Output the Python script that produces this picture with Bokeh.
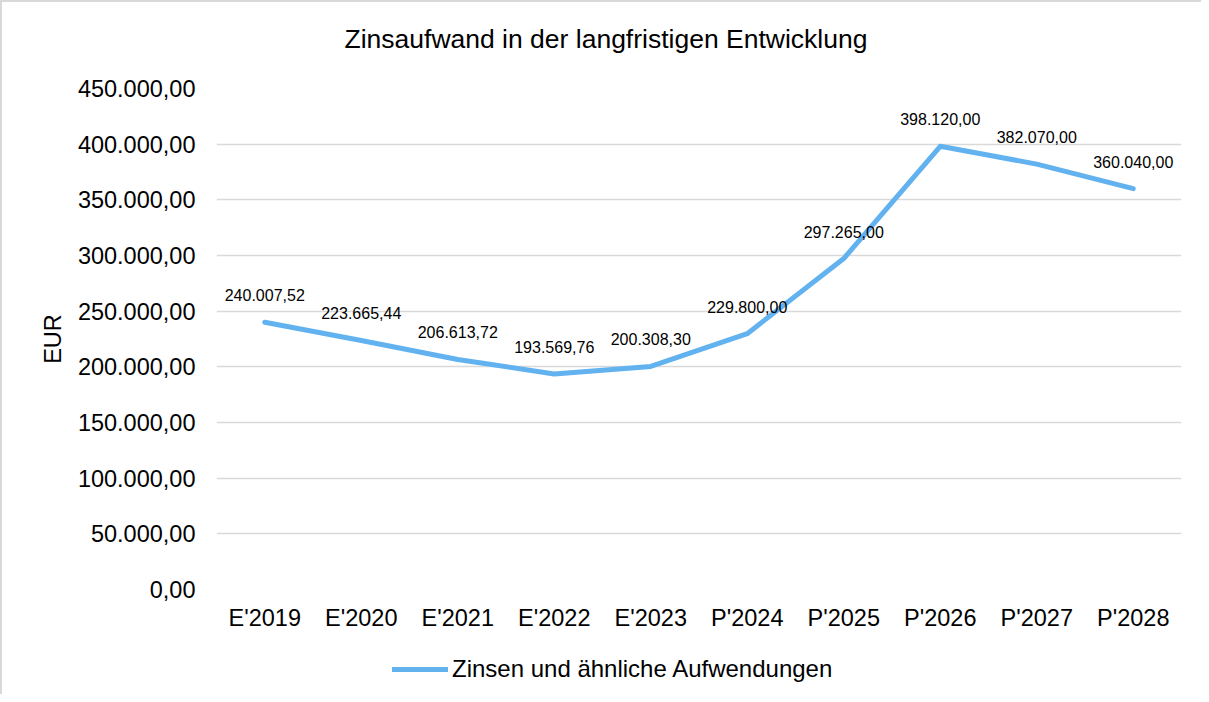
from bokeh.plotting import figure
from bokeh.layouts import column
from bokeh.models import ColumnDataSource, CustomJSTickFormatter, Legend, LegendItem, Range1d, FixedTicker
from bokeh.core.properties import value
from bokeh.embed import file_html
from bokeh.resources import INLINE

categories = ["E'2019", "E'2020", "E'2021", "E'2022", "E'2023",
              "P'2024", "P'2025", "P'2026", "P'2027", "P'2028"]
zinsen = [240007.52, 223665.44, 206613.72, 193569.76, 200308.30,
          229800.00, 297265.00, 398120.00, 382070.00, 360040.00]
y_ticks = [0, 50000, 100000, 150000, 200000, 250000, 300000, 350000, 400000, 450000]
series_name = "Zinsen und ähnliche Aufwendungen"
title_text = "Zinsaufwand in der langfristigen Entwicklung"

FONT = "Liberation Sans"
LINE_COLOR = "#62B2F0"


def de_fmt(v):
    s = f"{v:,.2f}"
    return s.replace(",", "X").replace(".", ",").replace("X", ".")


src = ColumnDataSource(dict(x=categories, y=zinsen, lbl=[de_fmt(v) for v in zinsen]))

# title strip
tp = figure(width=1199, height=72, output_backend="svg", toolbar_location=None,
            x_axis_type=None, y_axis_type=None, min_border=0)
tp.outline_line_color = None
tp.xgrid.grid_line_color = None
tp.ygrid.grid_line_color = None
tp.title.text = title_text
tp.title.text_font = FONT
tp.title.text_font_size = "26.5px"
tp.title.text_font_style = "normal"
tp.title.text_color = "#000000"
tp.title.align = "left"
tp.title.offset = 128
tp.title.standoff = 38

# main chart
p = figure(x_range=categories, width=1199, height=568, output_backend="svg",
           toolbar_location=None, min_border_left=214, min_border_right=20,
           min_border_bottom=53, min_border_top=14)
p.y_range = Range1d(0, 450000)
p.outline_line_color = None
p.xgrid.grid_line_color = None
p.ygrid.grid_line_color = "#d9d9d9"
p.ygrid.grid_line_width = 1.5

p.yaxis.ticker = FixedTicker(ticks=y_ticks)
p.yaxis.formatter = CustomJSTickFormatter(code="""
const s = tick.toFixed(2).split('.');
const i = s[0].replace(/\\B(?=(\\d{3})+(?!\\d))/g, '.');
return i + ',' + s[1];
""")
for ax in (p.xaxis, p.yaxis):
    ax.axis_line_color = None
    ax.major_tick_line_color = None
    ax.minor_tick_line_color = None
    ax.major_label_text_font = FONT
    ax.major_label_text_font_size = "23.5px"
    ax.major_label_text_color = "#000000"
p.yaxis.major_label_standoff = 15
p.xaxis.major_label_standoff = 9
p.yaxis.axis_label = "EUR"
p.yaxis.axis_label_text_font = FONT
p.yaxis.axis_label_text_font_size = "23.5px"
p.yaxis.axis_label_text_font_style = "normal"
p.yaxis.axis_label_text_color = "#000000"
p.yaxis.axis_label_standoff = 9

p.line("x", "y", source=src, line_color=LINE_COLOR, line_width=5, line_cap="round", line_join="round")
p.text("x", "y", text="lbl", source=src, text_font=value(FONT), text_font_size="16px",
       text_align="center", text_baseline="middle", y_offset=-27, text_color="#000000")

# legend strip below the chart (line kept outside the visible range; only the legend shows)
lp = figure(x_range=categories, width=1199, height=52, output_backend="svg", toolbar_location=None,
            x_axis_type=None, y_axis_type=None, min_border=0)
lp.y_range = Range1d(-2, -1)
lp.outline_line_color = None
lp.xgrid.grid_line_color = None
lp.ygrid.grid_line_color = None
lr = lp.line("x", "y", source=src, line_color=LINE_COLOR, line_width=5, line_cap="round")
legend = Legend(items=[LegendItem(label=series_name, renderers=[lr])],
                location=(176, 11), orientation="horizontal")
legend.label_text_font = FONT
legend.label_text_font_size = "24px"
legend.label_text_color = "#000000"
legend.glyph_width = 56
legend.label_standoff = 4
legend.border_line_color = None
legend.background_fill_alpha = 0
legend.margin = 0
legend.padding = 4
lp.add_layout(legend, "center")

layout = column(tp, p, lp, spacing=0,
                styles={"border-left": "2px solid #d9d9d9", "border-top": "2px solid #d9d9d9"})

open("out.html", "w").write(file_html(layout, INLINE))
